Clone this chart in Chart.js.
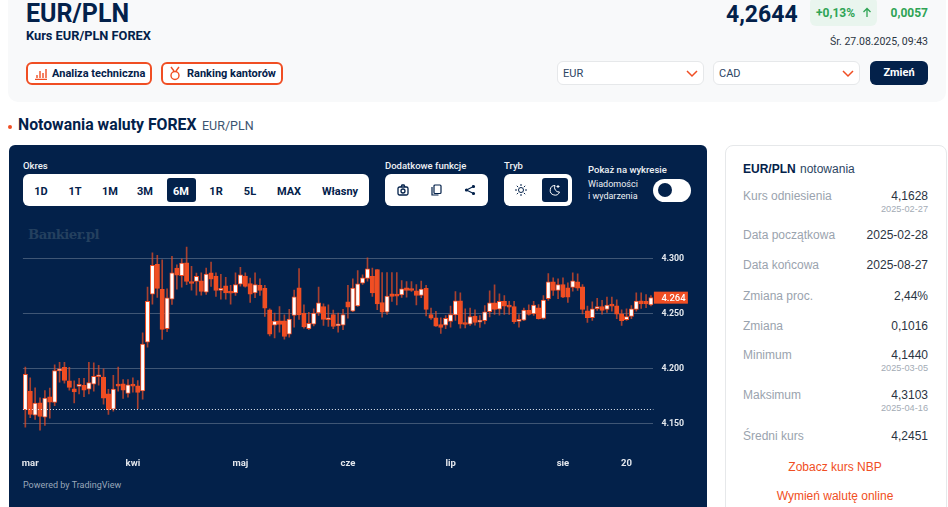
<!doctype html>
<html lang="pl">

<head>
	<meta charset="utf-8">
	<title>EUR/PLN</title>
	<style>
		* {
			margin: 0;
			padding: 0;
			box-sizing: border-box;
		}

		html, body {
			width: 948px;
			height: 507px;
			overflow: hidden;
			background: #fff;
			font-family: Roboto, sans-serif;
			color: #03214a;
		}

		.abs { position: absolute; white-space: nowrap; line-height: 1; }
		.box { position: absolute; }
		.topCard { left: 8px; top: -10px; width: 938px; height: 112px; background: #f8f9fa; border-radius: 10px; }
		.btn { height: 23px; top: 62px; border: 2px solid #f04e23; border-radius: 6px; background: #fff; font: 700 11px Roboto, sans-serif; line-height: 19px; color: #03214a; }
		.select { top: 61px; height: 24px; width: 147px; background: #fff; border: 1px solid #e6e8ea; border-radius: 6px; font: 400 11px Roboto, sans-serif; line-height: 23px; padding-left: 5px; color: #2c4463; }
		.panel { left: 9px; top: 145px; width: 698px; height: 380px; background: #03214a; border-radius: 6px; }
		.white { background: #fff; border-radius: 6px; top: 174px; height: 32px; }
		.active { background: #03214a; border-radius: 3px; top: 178px; height: 24px; }
		.lab { color: #eef1f5; font: 500 9.5px Roboto, sans-serif; }
		.per { font: 700 11px Roboto, sans-serif; color: #03214a; top: 185px; transform: translateX(-50%); }
		.side { left: 725px; top: 145px; width: 222px; height: 380px; border: 1px solid #e6e8ea; border-radius: 8px; background: #fff; }
		.k { left: 743px; margin-top: -1px; font: 400 12px "Liberation Sans", sans-serif; color: #9aa3ae; }
		.v { right: 20px; margin-top: -1px; font: 400 12px "Liberation Sans", sans-serif; color: #2a3442; }
		.s { right: 20px; margin-top: -2px; font: 400 9.2px "Liberation Sans", sans-serif; color: #a3abb5; }
		.lnk { left: 835px; margin-top: -1px; transform: translateX(-50%); font: 400 12px "Liberation Sans", sans-serif; color: #f04e23; }
		svg { position: absolute; fill: none; }
		#chartBox { position: absolute; left: 9px; top: 226px; }
	</style>
</head>

<body>
	<div class="box topCard"></div>
	<div class="abs" style="left:26px;top:-1px;font:700 25px Roboto,sans-serif">EUR/PLN</div>
	<div class="abs" style="left:26px;top:28px;font:700 12.8px Roboto,sans-serif">Kurs EUR/PLN FOREX</div>

	<div class="box btn" style="left:26px;width:126px;padding-left:24px">Analiza techniczna</div>
	<svg style="left:34px;top:67px" width="14" height="13" stroke="#f04e23" stroke-width="1.4"><path d="M1 12.5H13M3 11V8M6 11V4M9 11V6M12 11V2" /></svg>
	<div class="box btn" style="left:161px;width:122px;padding-left:24px">Ranking kantorów</div>
	<svg style="left:168px;top:66px" width="14" height="15" stroke="#f04e23" stroke-width="1.4"><circle cx="7" cy="9.5" r="4" /><path d="M3 1L6 5M11 1L8 5" /></svg>

	<div class="abs" style="left:726px;top:1px;font:700 23px Roboto,sans-serif">4,2644</div>
	<div class="box" style="left:810px;top:-3px;width:67px;height:29px;background:#e9f5ee;border-radius:6px"></div>
	<div class="abs" style="left:816px;top:6px;font:700 12px Roboto,sans-serif;color:#2fa455">+0,13%</div>
	<svg style="left:862px;top:7px" width="10" height="11" stroke="#2fa455" stroke-width="1.3"><path d="M5 10V1.5M1.5 5L5 1.5L8.5 5" /></svg>
	<div class="abs" style="right:20px;top:6px;font:700 12px Roboto,sans-serif;color:#2fa455">0,0057</div>
	<div class="abs" style="right:20px;top:35px;font:400 10.5px Roboto,sans-serif;color:#2a3442">Śr. 27.08.2025, 09:43</div>

	<div class="box select" style="left:557px">EUR</div>
	<svg style="left:686px;top:70px" width="12" height="8" stroke="#f04e23" stroke-width="1.5"><path d="M1 1L6 6L11 1" /></svg>
	<div class="box select" style="left:713px">CAD</div>
	<svg style="left:842px;top:70px" width="12" height="8" stroke="#f04e23" stroke-width="1.5"><path d="M1 1L6 6L11 1" /></svg>
	<div class="box" style="left:870px;top:61px;width:58px;height:24px;background:#03214a;border-radius:6px;color:#fff;font:700 11px Roboto,sans-serif;line-height:24px;text-align:center">Zmień</div>

	<div class="box" style="left:8px;top:125px;width:4px;height:4px;border-radius:50%;background:#f04e23"></div>
	<div class="abs" style="left:18px;top:115px;font:700 15.8px Roboto,sans-serif">Notowania waluty FOREX</div>
	<div class="abs" style="left:202px;top:118px;font:400 12.5px Roboto,sans-serif;color:#3d5470">EUR/PLN</div>

	<div class="box panel"></div>
	<div class="abs lab" style="left:23px;top:160px">Okres</div>
	<div class="box white" style="left:23px;width:346px"></div>
	<div class="box active" style="left:167px;width:29px"></div>
	<div class="abs per" style="left:41px">1D</div>
	<div class="abs per" style="left:75px">1T</div>
	<div class="abs per" style="left:110px">1M</div>
	<div class="abs per" style="left:145px">3M</div>
	<div class="abs per" style="left:181px;color:#fff">6M</div>
	<div class="abs per" style="left:216px">1R</div>
	<div class="abs per" style="left:250px">5L</div>
	<div class="abs per" style="left:289px">MAX</div>
	<div class="abs per" style="left:340px">Własny</div>

	<div class="abs lab" style="left:385px;top:160px">Dodatkowe funkcje</div>
	<div class="box white" style="left:385px;width:103px"></div>
	<svg style="left:397px;top:184px" width="12" height="12" stroke="#03214a" stroke-width="1.3"><rect x="1" y="3" width="10" height="8" rx="1.5" /><circle cx="6" cy="7" r="2" /><path d="M4 3L5 1H7L8 3" /></svg>
	<svg style="left:431px;top:184px" width="11" height="12" stroke="#03214a" stroke-width="1.2"><rect x="3" y="1" width="7" height="8.5" rx="1" /><path d="M1 3V11H7.5" /></svg>
	<svg style="left:464px;top:184px" width="12" height="12" stroke="#03214a" stroke-width="1.2"><path d="M9.5 2.5L2.5 6L9.5 9.5" /><circle cx="9.5" cy="2.5" r="1" fill="#03214a" /><circle cx="2.5" cy="6" r="1" fill="#03214a" /><circle cx="9.5" cy="9.5" r="1" fill="#03214a" /></svg>

	<div class="abs lab" style="left:504px;top:160px">Tryb</div>
	<div class="box white" style="left:504px;width:68px"></div>
	<div class="box active" style="left:542px;width:26px"></div>
	<svg style="left:515px;top:184px" width="12" height="12" stroke="#03214a" stroke-width="1"><circle cx="6" cy="6" r="2.5" /><path d="M6 0V2M6 10V12M0 6H2M10 6H12M1.8 1.8L3.2 3.2M8.8 8.8L10.2 10.2M1.8 10.2L3.2 8.8M8.8 3.2L10.2 1.8" /></svg>
	<svg style="left:549px;top:184px" width="12" height="12" stroke="#fff" stroke-width="1"><path d="M6 1.5A4.8 4.8 0 1 0 10.5 8A4.5 4.5 0 0 1 6 1.5Z" /><path d="M9 1V4M7.5 2.5H10.5" /></svg>

	<div class="abs lab" style="left:588px;top:164px">Pokaż na wykresie</div>
	<div class="abs lab" style="left:588px;top:179px;font-size:9px;font-weight:400">Wiadomości</div>
	<div class="abs lab" style="left:588px;top:191px;font-size:9px;font-weight:400">i wydarzenia</div>
	<div class="box" style="left:653px;top:179px;width:38px;height:23px;border-radius:12px;background:#fff"></div>
	<div class="box" style="left:658px;top:183px;width:14px;height:14px;border-radius:50%;background:#03214a"></div>

	<div class="abs" style="left:28px;top:227px;font:700 13.3px 'DejaVu Serif',serif;letter-spacing:-0.6px;color:#24405f">Bankier.pl</div>

	<div id="chartBox"><canvas id="candleChart" width="698" height="250"></canvas></div>
	<div class="abs" style="left:23px;top:480px;font:400 9px Roboto,sans-serif;color:#9aa8ba">Powered by TradingView</div>

	<div class="box side"></div>
	<div class="abs" style="left:743px;top:162px;font:700 12px 'Liberation Sans',sans-serif;color:#03214a">EUR/PLN <span style="font-weight:400;color:#2c4463;margin-left:1px">notowania</span></div>
	<div class="abs k" style="top:190px">Kurs odniesienia</div><div class="abs v" style="top:190px">4,1628</div><div class="abs s" style="top:206px">2025-02-27</div>
	<div class="abs k" style="top:229px">Data początkowa</div><div class="abs v" style="top:229px">2025-02-28</div>
	<div class="abs k" style="top:259px">Data końcowa</div><div class="abs v" style="top:259px">2025-08-27</div>
	<div class="abs k" style="top:290px">Zmiana proc.</div><div class="abs v" style="top:290px">2,44%</div>
	<div class="abs k" style="top:320px">Zmiana</div><div class="abs v" style="top:320px">0,1016</div>
	<div class="abs k" style="top:349px">Minimum</div><div class="abs v" style="top:349px">4,1440</div><div class="abs s" style="top:365px">2025-03-05</div>
	<div class="abs k" style="top:389px">Maksimum</div><div class="abs v" style="top:389px">4,3103</div><div class="abs s" style="top:405px">2025-04-16</div>
	<div class="abs k" style="top:430px">Średni kurs</div><div class="abs v" style="top:430px">4,2451</div>
	<div class="abs lnk" style="top:461px">Zobacz kurs NBP</div>
	<div class="abs lnk" style="top:490px">Wymień walutę online</div>

	<script src="https://cdn.jsdelivr.net/npm/chart.js"></script>
	<script>
		// daily candles
		const opens = [4.1625,4.1794,4.1576,4.1688,4.1558,4.1743,4.1691,4.1979,4.2010,4.1888,4.1816,4.1837,4.1846,4.1813,4.1858,4.1925,4.1922,4.1770,4.1631,4.1852,4.1861,4.1773,4.1849,4.1843,4.1797,4.2240,4.2676,4.2946,4.2719,4.2361,4.2631,4.2913,4.2843,4.2961,4.2791,4.2791,4.2797,4.2694,4.2870,4.2840,4.2709,4.2752,4.2694,4.2688,4.2767,4.2840,4.2773,4.2688,4.2755,4.2728,4.2534,4.2394,4.2434,4.2434,4.2313,4.2482,4.2734,4.2503,4.2361,4.2403,4.2506,4.2564,4.2443,4.2491,4.2388,4.2394,4.2606,4.2522,4.2570,4.2776,4.2819,4.2837,4.2900,4.2600,4.2513,4.2679,4.2670,4.2670,4.2734,4.2725,4.2706,4.2664,4.2728,4.2491,4.2461,4.2400,4.2394,4.2428,4.2488,4.2616,4.2410,4.2403,4.2476,4.2422,4.2434,4.2516,4.2597,4.2540,4.2610,4.2570,4.2564,4.2428,4.2440,4.2528,4.2497,4.2552,4.2455,4.2634,4.2788,4.2709,4.2764,4.2734,4.2737,4.2788,4.2743,4.2525,4.2461,4.2543,4.2564,4.2537,4.2579,4.2570,4.2497,4.2443,4.2473,4.2537,4.2616,4.2610,4.2579];
		const highs = [4.2013,4.1916,4.1825,4.1734,4.1800,4.1822,4.2034,4.2055,4.2055,4.2010,4.1888,4.1910,4.1910,4.2055,4.2052,4.2028,4.1997,4.1810,4.1937,4.2013,4.1900,4.1900,4.1916,4.1891,4.2325,4.2740,4.3052,4.3028,4.2988,4.2725,4.3019,4.2943,4.2997,4.3103,4.2928,4.2867,4.2870,4.2913,4.2967,4.2870,4.2855,4.2828,4.2755,4.2870,4.2919,4.2870,4.2822,4.2870,4.2816,4.2755,4.2543,4.2503,4.2564,4.2488,4.2537,4.2713,4.2909,4.2579,4.2510,4.2543,4.2740,4.2588,4.2579,4.2531,4.2503,4.2537,4.2755,4.2816,4.2891,4.2852,4.3006,4.2913,4.2900,4.2873,4.2873,4.2873,4.2873,4.2800,4.2791,4.2791,4.2764,4.2794,4.2755,4.2549,4.2519,4.2461,4.2482,4.2567,4.2700,4.2688,4.2543,4.2549,4.2534,4.2482,4.2573,4.2706,4.2761,4.2679,4.2664,4.2610,4.2610,4.2491,4.2549,4.2579,4.2610,4.2582,4.2664,4.2864,4.2825,4.2816,4.2825,4.2779,4.2870,4.2861,4.2764,4.2567,4.2606,4.2637,4.2619,4.2649,4.2649,4.2625,4.2534,4.2543,4.2573,4.2688,4.2688,4.2673,4.2664];
		const lows = [4.1467,4.1552,4.1537,4.1440,4.1482,4.1549,4.1661,4.1876,4.1867,4.1804,4.1688,4.1770,4.1743,4.1770,4.1794,4.1849,4.1676,4.1582,4.1613,4.1794,4.1728,4.1740,4.1785,4.1634,4.1722,4.2194,4.2585,4.2646,4.2264,4.2334,4.2582,4.2722,4.2740,4.2761,4.2713,4.2667,4.2667,4.2673,4.2746,4.2655,4.2631,4.2631,4.2585,4.2664,4.2749,4.2740,4.2600,4.2643,4.2664,4.2473,4.2297,4.2279,4.2331,4.2267,4.2285,4.2376,4.2446,4.2367,4.2352,4.2388,4.2482,4.2391,4.2382,4.2361,4.2331,4.2352,4.2458,4.2516,4.2564,4.2764,4.2794,4.2655,4.2534,4.2467,4.2491,4.2609,4.2579,4.2646,4.2649,4.2700,4.2579,4.2643,4.2479,4.2446,4.2382,4.2319,4.2361,4.2376,4.2437,4.2367,4.2370,4.2391,4.2394,4.2373,4.2406,4.2470,4.2491,4.2485,4.2491,4.2491,4.2410,4.2376,4.2434,4.2485,4.2482,4.2449,4.2449,4.2619,4.2664,4.2634,4.2643,4.2600,4.2703,4.2709,4.2497,4.2419,4.2437,4.2528,4.2494,4.2510,4.2522,4.2452,4.2391,4.2437,4.2452,4.2522,4.2546,4.2552,4.2570];
		const closes = [4.1946,4.1582,4.1685,4.1564,4.1731,4.1694,4.1982,4.1997,4.1891,4.1828,4.1788,4.1855,4.1804,4.1873,4.1928,4.1943,4.1731,4.1625,4.1813,4.1840,4.1804,4.1852,4.1840,4.1782,4.2222,4.2610,4.2937,4.2728,4.2355,4.2643,4.2870,4.2849,4.2958,4.2791,4.2773,4.2837,4.2700,4.2858,4.2813,4.2709,4.2728,4.2688,4.2685,4.2764,4.2852,4.2746,4.2676,4.2764,4.2709,4.2549,4.2313,4.2431,4.2400,4.2291,4.2449,4.2652,4.2488,4.2379,4.2410,4.2503,4.2597,4.2446,4.2461,4.2382,4.2403,4.2491,4.2558,4.2731,4.2770,4.2825,4.2906,4.2688,4.2588,4.2513,4.2658,4.2655,4.2658,4.2725,4.2709,4.2709,4.2664,4.2722,4.2537,4.2458,4.2385,4.2373,4.2455,4.2491,4.2616,4.2403,4.2400,4.2473,4.2419,4.2437,4.2516,4.2597,4.2537,4.2610,4.2567,4.2558,4.2425,4.2443,4.2531,4.2491,4.2576,4.2452,4.2622,4.2788,4.2709,4.2764,4.2649,4.2649,4.2797,4.2731,4.2537,4.2461,4.2543,4.2564,4.2528,4.2576,4.2567,4.2494,4.2434,4.2473,4.2543,4.2613,4.2588,4.2588,4.2644];

		const tickIndex = [1, 22, 44, 66, 87, 110, 123];
		const tickLabels = ['mar', 'kwi', 'maj', 'cze', 'lip', 'sie', '20'];
		const yTicks = [4.15, 4.20, 4.25, 4.30];
		const refRate = 4.1628; // kurs odniesienia, dotted line

		const orange = '#f04e23';
		const ctx = document.getElementById('candleChart');

		const categories = opens.map((_, i) => i);

		// dotted line and last price tag
		const overlay = {
			id: 'overlay',
			afterDatasetsDraw(chart) {
				const { ctx: c, chartArea: a, scales: { y } } = chart;
				const py = Math.round(y.getPixelForValue(refRate)) + 0.5;
				c.save();
				c.strokeStyle = '#e8ecf2';
				c.setLineDash([1, 2]);
				c.beginPath();
				c.moveTo(a.left, py);
				c.lineTo(a.right, py);
				c.stroke();
				c.setLineDash([]);
				const last = closes[closes.length - 1];
				const ly = y.getPixelForValue(last);
				c.fillStyle = orange;
				c.fillRect(a.right + 0.5, ly - 6, 34, 12);
				c.fillStyle = '#fff';
				c.font = '500 9.5px Roboto, sans-serif';
				c.textBaseline = 'middle';
				c.fillText(last.toFixed(3), a.right + 8, ly + 0.5);
				c.restore();
			}
		};

		new Chart(ctx, {
			type: 'bar',
			data: {
				labels: categories,
				datasets: [
					{
						label: 'body',
						data: opens.map((o, i) => [o, closes[i]]),
						backgroundColor: opens.map((o, i) => closes[i] >= o ? '#fff' : orange),
						borderColor: orange,
						borderWidth: 1,
						borderSkipped: false,
						barThickness: 4.4,
						minBarLength: 2,
						order: 1
					},
					{
						label: 'wick',
						data: lows.map((l, i) => [l, highs[i]]),
						backgroundColor: 'rgba(240,78,35,0.7)',
						barThickness: 1,
						order: 2
					}
				]
			},
			options: {
				responsive: false,
				animation: false,
				layout: { padding: { left: 13.9, top: 10.5, right: 0, bottom: 0 } },
				datasets: { bar: { grouped: false } },
				plugins: { legend: { display: false }, tooltip: { enabled: false } },
				scales: {
					x: {
						grid: { display: false, drawTicks: false },
						border: { display: false },
						afterFit: s => { s.height = 25; s.paddingLeft = 0; s.paddingRight = 0; },
						ticks: {
							autoSkip: false,
							maxRotation: 0,
							padding: 7,
							color: '#e3e7ed',
							font: { family: 'Roboto', size: 9.5, weight: '700' },
							callback: v => { const k = tickIndex.indexOf(v); return k >= 0 ? tickLabels[k] : ''; }
						}
					},
					y: {
						position: 'right',
						min: 4.125,
						max: 4.32,
						afterBuildTicks: s => { s.ticks = yTicks.map(v => ({ value: v })); },
						afterFit: s => { s.width = 53.6; s.paddingTop = 0; s.paddingBottom = 0; },
						grid: { color: 'rgba(255,255,255,0.24)', drawTicks: false },
						border: { display: false },
						ticks: {
							padding: 8,
							color: '#e3e7ed',
							font: { family: 'Roboto', size: 8.8, weight: '700' },
							callback: v => v.toFixed(3)
						}
					}
				}
			},
			plugins: [overlay]
		});
	</script>
</body>

</html>
